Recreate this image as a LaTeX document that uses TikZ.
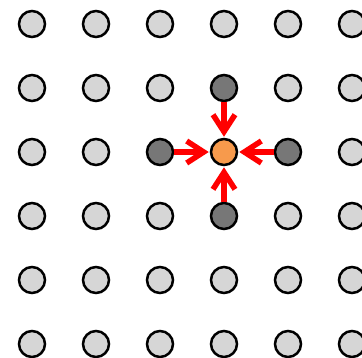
\documentclass[tikz,border=0pt]{standalone}
\usetikzlibrary{arrows.meta}
\definecolor{lightfill}{HTML}{D6D6D6}
\definecolor{darkfill}{HTML}{777777}
\definecolor{centerfill}{HTML}{F79A4C}
\definecolor{arrowred}{HTML}{FF0000}
\begin{document}
\begin{tikzpicture}[x=1pt,y=-1pt,
  site/.style={circle,draw=black,line width=2.5pt,minimum size=26pt,inner sep=0pt,fill=lightfill},
  nbr/.style={site,fill=darkfill},
  ctr/.style={site,fill=centerfill},
  flow/.style={draw=arrowred,line width=5.5pt,-{Straight Barb[length=17pt,width=22pt,line width=5.5pt]},shorten >=1pt}]
\useasboundingbox (0,0) rectangle (362,357);
\foreach \i in {0,...,5}{
  \foreach \j in {0,...,5}{
    \pgfmathtruncatemacro{\isn}{(\i==3 && \j==1) || (\i==2 && \j==2) || (\i==4 && \j==2) || (\i==3 && \j==3) || (\i==3 && \j==2)}
    \ifnum\isn=0
      \node[site] (n\i\j) at (32+64*\i,24+64*\j) {};
    \fi
  }
}
\node[nbr] (n31) at (224,88) {};
\node[nbr] (n22) at (160,152) {};
\node[nbr] (n42) at (288,152) {};
\node[nbr] (n33) at (224,216) {};
\node[ctr] (n32) at (224,152) {};
\draw[flow] (n31) -- (n32);
\draw[flow] (n22) -- (n32);
\draw[flow] (n42) -- (n32);
\draw[flow] (n33) -- (n32);
\end{tikzpicture}
\end{document}
